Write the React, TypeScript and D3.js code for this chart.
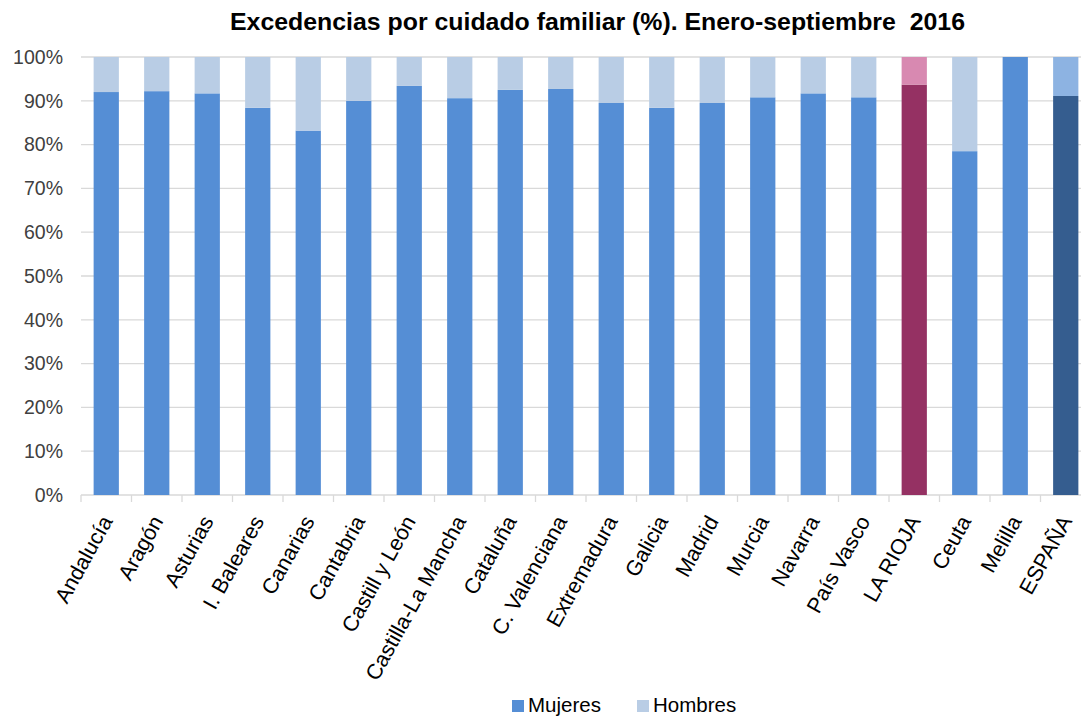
import React from "react";
import * as d3 from "d3";

const categories = [
  "Andalucía", "Aragón", "Asturias", "I. Baleares", "Canarias", "Cantabria",
  "Castill y León", "Castilla-La Mancha", "Cataluña", "C. Valenciana",
  "Extremadura", "Galicia", "Madrid", "Murcia", "Navarra", "País Vasco",
  "LA RIOJA", "Ceuta", "Melilla", "ESPAÑA",
];
const mujeres = [92.0, 92.2, 91.7, 88.4, 83.2, 90.0, 93.4, 90.6, 92.5, 92.7, 89.5, 88.4, 89.5, 90.8, 91.7, 90.8, 93.7, 78.5, 100, 91.1];
const hombres = [8.0, 7.8, 8.3, 11.6, 16.8, 10.0, 6.6, 9.4, 7.5, 7.3, 10.5, 11.6, 10.5, 9.2, 8.3, 9.2, 6.3, 21.5, 0, 8.9];
const yTicks = [0, 10, 20, 30, 40, 50, 60, 70, 80, 90, 100];
const seriesNames = ["Mujeres", "Hombres"];
const title = "Excedencias por cuidado familiar (%). Enero-septiembre  2016";

const colorsDefault = ["#558ED5", "#B9CDE5"];
const colorsSpecial: Record<string, string[]> = {
  "LA RIOJA": ["#953163", "#D889B1"],
  "ESPAÑA": ["#355D8F", "#8DB3E2"],
};

const W = 1081;
const H = 717;
const FONT = "'Liberation Sans', Arial, sans-serif";

export default function App() {
  const x = d3
    .scaleBand<string>()
    .domain(categories)
    .range([81, 81 + categories.length * 50.5])
    .paddingInner(0.5)
    .paddingOuter(0.25);
  const y = d3.scaleLinear().domain([0, 100]).range([495, 57]);

  const stack = d3
    .stack<number>()
    .keys(["0", "1"])
    .value((i, key) => (key === "0" ? mujeres[i] : hombres[i]));
  const series = stack(d3.range(categories.length));

  const step = x.step();
  const left = x.range()[0];
  const right = x.range()[1];

  return (
    <div style={{ position: "absolute", left: 0, top: 0 }}>
      <svg width={W} height={H} style={{ display: "block", background: "#fff" }}>
        <text
          x={230}
          y={30}
          fontFamily={FONT}
          fontWeight="bold"
          fontSize={24}
          textLength={735}
          lengthAdjust="spacingAndGlyphs"
          fill="#000"
          style={{ whiteSpace: "pre" }}
        >
          {title}
        </text>

        {yTicks.map((t) => (
          <g key={t}>
            <line x1={left} x2={right} y1={y(t)} y2={y(t)} stroke="#D9D9D9" strokeWidth={1.3} />
            <text
              x={63}
              y={y(t)}
              dy="0.35em"
              textAnchor="end"
              fontFamily={FONT}
              fontSize={19.5}
              fill="#404040"
            >
              {t}%
            </text>
          </g>
        ))}

        {d3.range(categories.length + 1).map((i) => (
          <line
            key={"tk" + i}
            x1={left + i * step}
            x2={left + i * step}
            y1={y(0)}
            y2={y(0) + 7}
            stroke="#D9D9D9"
            strokeWidth={1.3}
          />
        ))}

        {series.map((s, si) =>
          s.map((d, i) => {
            const cat = categories[i];
            const col = (colorsSpecial[cat] || colorsDefault)[si];
            const h = y(d[0]) - y(d[1]);
            if (h <= 0) return null;
            return (
              <rect
                key={si + "-" + i}
                x={x(cat)}
                y={y(d[1])}
                width={x.bandwidth()}
                height={h}
                fill={col}
              />
            );
          })
        )}

        {categories.map((c) => {
          const cx = (x(c) as number) + x.bandwidth() / 2 + 7;
          return (
            <text
              key={"lb" + c}
              transform={`translate(${cx},521) rotate(-61)`}
              textAnchor="end"
              fontFamily={FONT}
              fontSize={21.5}
              fill="#000"
            >
              {c}
            </text>
          );
        })}

        {seriesNames.map((n, i) => {
          const lx = i === 0 ? 512 : 637;
          return (
            <g key={"lg" + n}>
              <rect x={lx} y={700} width={12} height={12} fill={colorsDefault[i]} />
              <text x={lx + 16} y={712} fontFamily={FONT} fontSize={20.5} fill="#000">
                {n}
              </text>
            </g>
          );
        })}
      </svg>
    </div>
  );
}
